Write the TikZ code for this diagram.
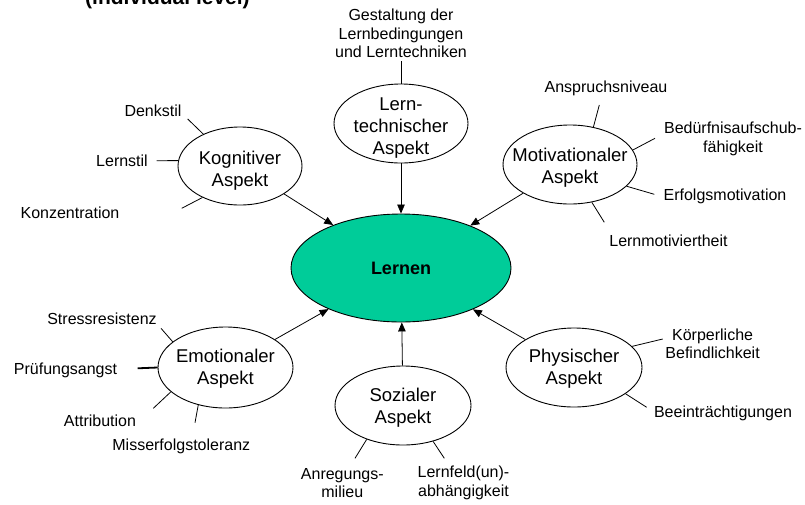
\documentclass[tikz,border=0pt]{standalone}
\usepackage{fontspec}
\setmainfont{Liberation Sans}
\usetikzlibrary{shapes.geometric,arrows.meta}
\definecolor{lerngruen}{RGB}{0,204,153}
\tikzset{
  ell/.style={draw=black, line width=0.9pt, ellipse, inner sep=0pt},
  bigtxt/.style={font=\fontsize{18.5}{22}\selectfont, align=center, inner sep=0pt},
  lab/.style={font=\fontsize{16}{18.4}\selectfont, align=center, inner sep=0pt},
  tick/.style={line width=0.8pt},
  arr/.style={line width=0.8pt, -{Triangle[length=9pt,width=7.5pt]}},
}
\begin{document}
\begin{tikzpicture}[x=1pt,y=-1pt]
\useasboundingbox (0,0) rectangle (805,504);
\clip (0,0) rectangle (805,504);
\fill[white] (0,0) rectangle (805,504);

% title (cut off at the top)
\node[font=\fontsize{21}{24}\selectfont\bfseries, anchor=base west, inner sep=0pt] (title) at (85,4.5) {(individual level)};

% central ellipse
\node[ell, fill=lerngruen, minimum width=220pt, minimum height=108pt] (lern) at (401,268) {};
\node[font=\fontsize{18}{21}\selectfont\bfseries, inner sep=0pt] (lernt) at (401,268) {Lernen};

% aspect ellipses
\node[ell, minimum width=124pt, minimum height=78pt] (kog) at (240,166) {};
\node[bigtxt] (kogt) at (240,171) {Kognitiver\\Aspekt};

\node[ell, minimum width=134pt, minimum height=79pt] (tech) at (401,123.5) {};
\node[bigtxt] (techt) at (401,128) {Lern-\\technischer\\Aspekt};

\node[ell, minimum width=134pt, minimum height=79pt] (mot) at (570,164.5) {};
\node[bigtxt] (mott) at (570,168) {Motivationaler\\Aspekt};

\node[ell, minimum width=135pt, minimum height=81pt] (emo) at (225.5,367.5) {};
\node[bigtxt] (emot) at (225.5,369) {Emotionaler\\Aspekt};

\node[ell, minimum width=136pt, minimum height=79pt] (soz) at (403,405.5) {};
\node[bigtxt] (sozt) at (403,408) {Sozialer\\Aspekt};

\node[ell, minimum width=136pt, minimum height=79pt] (phy) at (574,367.5) {};
\node[bigtxt] (phyt) at (574,369) {Physischer\\Aspekt};

% arrows into Lernen
\draw[arr] (tech) -- (lern);
\draw[arr] (kog) -- (lern);
\draw[arr] (mot) -- (lern);
\draw[arr] (emo) -- (lern);
\draw[arr] (soz) -- (lern);
\draw[arr] (phy) -- (lern);

% Kognitiver labels
\node[lab] (denk) at (153,110.7) {Denkstil};
\node[lab] (lstil) at (122,160.7) {Lernstil};
\node[lab] (konz) at (70,212.7) {Konzentration};
\coordinate (cdenk) at (187.7,119);
\coordinate (clstil) at (156.7,160.7);
\coordinate (ckonz) at (181.7,208.3);
\draw[tick] (cdenk) -- (kog.139.3);
\draw[tick] (clstil) -- (kog.175);
\draw[tick] (ckonz) -- (kog.220);

% Lerntechnischer label
\node[lab] (gest) at (401,33.5) {Gestaltung der\\Lernbedingungen\\und Lerntechniken};
\coordinate (cgest) at (401,61);
\draw[tick] (cgest) -- (tech.north);

% Motivationaler labels
\node[lab] (anspr) at (606,88) {Anspruchsniveau};
\node[lab] (bed) at (733,139) {Bedürfnisaufschub-\\fähigkeit};
\node[lab] (erf) at (725,196) {Erfolgsmotivation};
\node[lab] (lmot) at (668.5,241) {Lernmotiviertheit};
\coordinate (canspr) at (599.3,105);
\coordinate (cbed) at (655,138.3);
\coordinate (cerf) at (654.3,194.3);
\coordinate (clmot) at (604.3,222.3);
\draw[tick] (canspr) -- (mot.58);
\draw[tick] (cbed) -- (mot.13.7);
\draw[tick] (cerf) -- (mot.339.3);
\draw[tick] (clmot) -- (mot.300.2);

% Emotionaler labels
\node[lab] (stress) at (102,318.3) {Stressresistenz};
\node[lab] (pruef) at (65.5,370) {Prüfungsangst};
\node[lab] (attr) at (100,420.7) {Attribution};
\node[lab] (miss) at (181.3,446.7) {Misserfolgstoleranz};
\coordinate (cstress) at (161,328.3);
\coordinate (cpruef) at (137.7,368.3);
\coordinate (cattr) at (153.3,408.3);
\coordinate (cmiss) at (195,422.7);
\draw[tick] (cstress) -- (emo.154.4);
\draw[line width=1.8pt] (cpruef) -- (emo.180);
\draw[tick] (cattr) -- (emo.204.2);
\draw[tick] (cmiss) -- (emo.234.5);

% Sozialer labels
\node[lab] (anreg) at (342.3,482.8) {Anregungs-\\milieu};
\node[lab] (lfeld) at (463.5,482.8) {Lernfeld(un)-\\abhängigkeit};
\coordinate (canreg) at (355,458.3);
\coordinate (clfeld) at (444.3,458.3);
\draw[tick] (canreg) -- (soz.223);
\draw[tick] (clfeld) -- (soz.310.6);

% Physischer labels
\node[lab] (koerp) at (712.6,343.7) {Körperliche\\Befindlichkeit};
\node[lab] (beein) at (723,413.3) {Beeinträchtigungen};
\coordinate (ckoerp) at (662.7,339);
\coordinate (cbeein) at (646.7,407.3);
\draw[tick] (ckoerp) -- (phy.20.7);
\draw[tick] (cbeein) -- (phy.333.6);
\end{tikzpicture}
\end{document}
